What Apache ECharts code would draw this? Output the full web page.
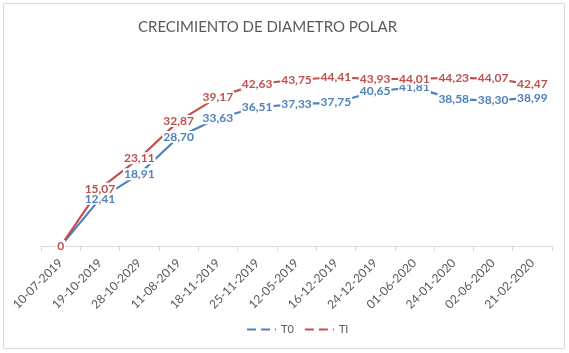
<!DOCTYPE html>
<html>
<head>
<meta charset="utf-8">
<script src="https://cdn.jsdelivr.net/npm/echarts@6/dist/echarts.min.js"></script>
<style>
  html, body { margin: 0; padding: 0; background: #fff; }
  #chart { width: 569px; height: 353px; }
</style>
</head>
<body>
<div id="chart"></div>
<script>
var fechas = ['10-07-2019', '19-10-2019', '28-10-2029', '11-08-2019', '18-11-2019', '25-11-2019',
  '12-05-2019', '16-12-2019', '24-12-2019', '01-06-2020', '24-01-2020', '02-06-2020', '21-02-2020'];
var t0 = [0, 12.41, 18.91, 28.70, 33.63, 36.51, 37.33, 37.75, 40.65, 41.81, 38.58, 38.30, 38.99];
var ti = [0, 15.07, 23.11, 32.87, 39.17, 42.63, 43.75, 44.41, 43.93, 44.01, 44.23, 44.07, 42.47];

var azul = '#4F81BD';
var rojo = '#C0504D';

function etiqueta(color) {
  return {
    show: true,
    position: 'inside',
    color: color,
    fontFamily: 'Lato',
    fontSize: 12,
    fontWeight: 'bold',
    backgroundColor: '#fff',
    padding: [0, 1],
    formatter: function(p) {
      return p.value === 0 ? '0' : p.value.toFixed(2).replace('.', ',');
    }
  };
}

function serie(nombre, datos, color) {
  return {
    name: nombre,
    type: 'line',
    data: datos,
    symbol: 'circle',
    symbolSize: 0,
    lineStyle: { color: color, width: 2.2 },
    itemStyle: { color: color },
    label: etiqueta(color),
    animation: false
  };
}

var chart = echarts.init(document.getElementById('chart'));
chart.setOption({
  title: {
    text: 'CRECIMIENTO DE DIAMETRO POLAR',
    left: 133,
    top: 15,
    textStyle: { color: '#595959', fontSize: 15, fontWeight: 'normal', fontFamily: 'Lato' }
  },
  graphic: [{
    type: 'rect',
    shape: { x: 3.5, y: 3.5, width: 561, height: 345 },
    style: { fill: 'none', stroke: '#d9d9d9', lineWidth: 1 }
  }],
  legend: {
    bottom: 13,
    left: 241,
    itemWidth: 29,
    itemGap: 10,
    textStyle: { color: '#595959', fontSize: 11, fontFamily: 'Lato' },
    data: [
      { name: 'T0', itemStyle: { opacity: 0 }, lineStyle: { type: [9, 5] } },
      { name: 'TI', itemStyle: { opacity: 0 }, lineStyle: { type: [9, 5] } }
    ]
  },
  grid: { left: 41, right: 17, top: 56, bottom: 107 },
  xAxis: {
    type: 'category',
    data: fechas,
    boundaryGap: true,
    axisLine: { lineStyle: { color: '#d9d9d9' } },
    axisTick: { show: true, length: 5, lineStyle: { color: '#d9d9d9' } },
    axisLabel: { rotate: 45, color: '#595959', fontSize: 12, fontFamily: 'Lato', interval: 0, margin: 15 }
  },
  yAxis: {
    type: 'value',
    min: 0,
    max: 50,
    show: false
  },
  series: [serie('T0', t0, azul), serie('TI', ti, rojo)]
});
</script>
</body>
</html>
